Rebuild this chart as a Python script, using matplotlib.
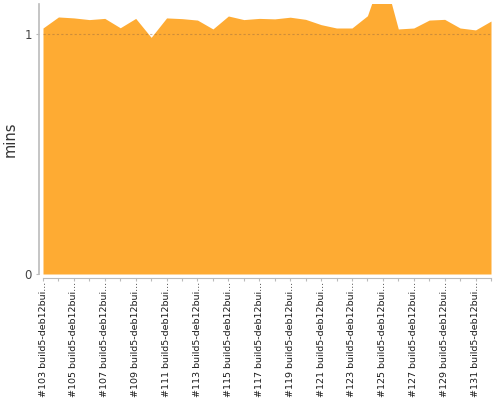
import matplotlib
matplotlib.use("Agg")
import matplotlib.pyplot as plt

# build numbers on the x axis
builds = list(range(103, 133))
label_suffix = " build5-deb12bui..."

# build duration in minutes
durations = [1.025, 1.071, 1.067, 1.060, 1.065, 1.026, 1.065, 0.986, 1.067, 1.064,
             1.058, 1.021, 1.075, 1.060, 1.065, 1.063, 1.070, 1.061, 1.039, 1.025,
             1.025, 1.076, 1.260, 1.021, 1.025, 1.058, 1.061, 1.025, 1.017, 1.054]

y_ticks = [0, 1]
y_max = 1.125

fill_color = "#FEAB33"

fig = plt.figure(figsize=(5, 4), dpi=100)
ax = fig.add_axes([43 / 500, 1 - 274 / 400, 448 / 500, 270 / 400])

x = list(range(len(builds)))
ax.fill_between(x, 0, durations, color=fill_color, linewidth=0, zorder=2)
ax.axhline(1, color="#a07040", alpha=0.5, lw=0.8, ls=(0, (2, 2)), zorder=3)

ax.set_xlim(0, len(builds) - 1)
ax.set_ylim(0, y_max)

ax.set_yticks(y_ticks)
ax.set_yticklabels([str(t) for t in y_ticks])
ax.tick_params(axis="y", length=2.2, width=0.8, color="#bbbbbb", pad=3,
               labelsize=8.5, labelcolor="#444444")

ax.set_xticks(x)
ax.set_xticklabels([f"#{b}{label_suffix}" if i % 2 == 0 else "" for i, b in enumerate(builds)])
ax.tick_params(axis="x", length=2.2, width=0.8, color="#bbbbbb", pad=0.5,
               labelsize=6.8, labelcolor="#1a1a1a", labelrotation=90)

for side in ("top", "right"):
    ax.spines[side].set_visible(False)
ax.spines["left"].set_position(("outward", 2.7))
ax.spines["bottom"].set_position(("outward", 2.9))
ax.spines["left"].set_color("#bbbbbb")
ax.spines["bottom"].set_color("#bbbbbb")
ax.spines["left"].set_linewidth(1.2)
ax.spines["bottom"].set_linewidth(0.8)

ax.set_ylabel("mins", fontsize=10.5, color="#333333")
ax.yaxis.set_label_coords(-0.057, 0.5)

fig.savefig("out.png", dpi=100)
